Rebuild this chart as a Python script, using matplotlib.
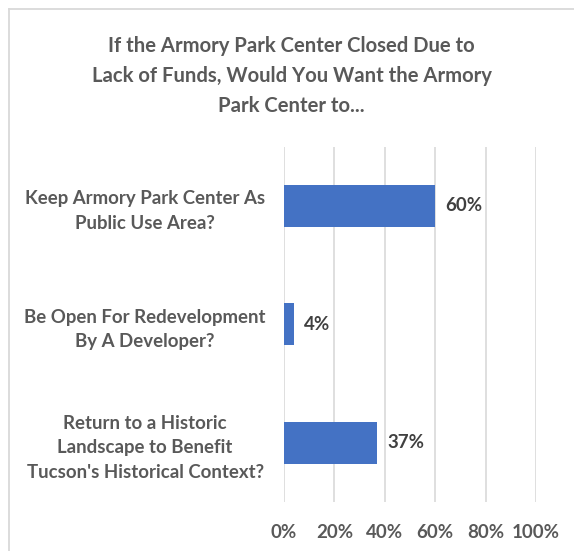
import matplotlib
matplotlib.use("Agg")
import matplotlib.pyplot as plt
from matplotlib.lines import Line2D

categories = ["Keep Armory Park Center As\nPublic Use Area?",
              "Be Open For Redevelopment\nBy A Developer?",
              "Return to a Historic\nLandscape to Benefit\nTucson's Historical Context?"]
values = [60, 4, 37]
value_labels = ["60%", "4%", "37%"]
xticks = [0, 20, 40, 60, 80, 100]
xtick_labels = ["0%", "20%", "40%", "60%", "80%", "100%"]
title = "If the Armory Park Center Closed Due to\nLack of Funds, Would You Want the Armory\nPark Center to..."

W, H = 574, 551
dpi = 100
fig = plt.figure(figsize=(W / dpi, H / dpi), dpi=dpi)
plt.rcParams['font.family'] = ['Lato', 'DejaVu Sans']
gray = "#595959"

# axes: x 284..536, y 146.7..501.7 px
ax = fig.add_axes([284 / W, 1 - 501.7 / H, (536 - 284) / W, (501.7 - 146.7) / H])
ypos = list(range(len(categories)))
ax.barh(ypos, values, height=0.355, color="#4472c4", zorder=3)
ax.set_ylim(len(categories) - 0.5, -0.5)
ax.set_xlim(0, 100)
ax.set_xticks(xticks)
ax.set_xticklabels(xtick_labels, fontsize=13.5, fontweight="bold", color=gray)
ax.set_yticks(ypos)
ax.set_yticklabels(categories, fontsize=13.4, fontweight="bold", color=gray,
                   ha="center", multialignment="center", linespacing=1.55)
ax.tick_params(axis="y", length=0, pad=100)
ax.tick_params(axis="x", length=0, pad=16)
ax.grid(axis="x", color="#d9d9d9", linewidth=1.2, zorder=0)
for s in ax.spines.values():
    s.set_visible(False)
for y, v, lab in zip(ypos, values, value_labels):
    ax.text(v + 4, y, lab, va="center", ha="left", fontsize=13.5,
            fontweight="bold", color="#404040")

fig.text(0.5 * (W + 9) / W, 1 - 76 / H, title, ha="center", va="center",
         fontsize=14.6, fontweight="bold", color=gray, linespacing=1.62)

# frame (top and left)
fig.add_artist(Line2D([8.5 / W, 1.0], [1 - 8.5 / H, 1 - 8.5 / H], color="#d9d9d9", linewidth=1.3,
                      transform=fig.transFigure))
fig.add_artist(Line2D([8.5 / W, 8.5 / W], [0, 1 - 8.5 / H], color="#d9d9d9", linewidth=1.3,
                      transform=fig.transFigure))

fig.savefig("out.png", dpi=dpi)
